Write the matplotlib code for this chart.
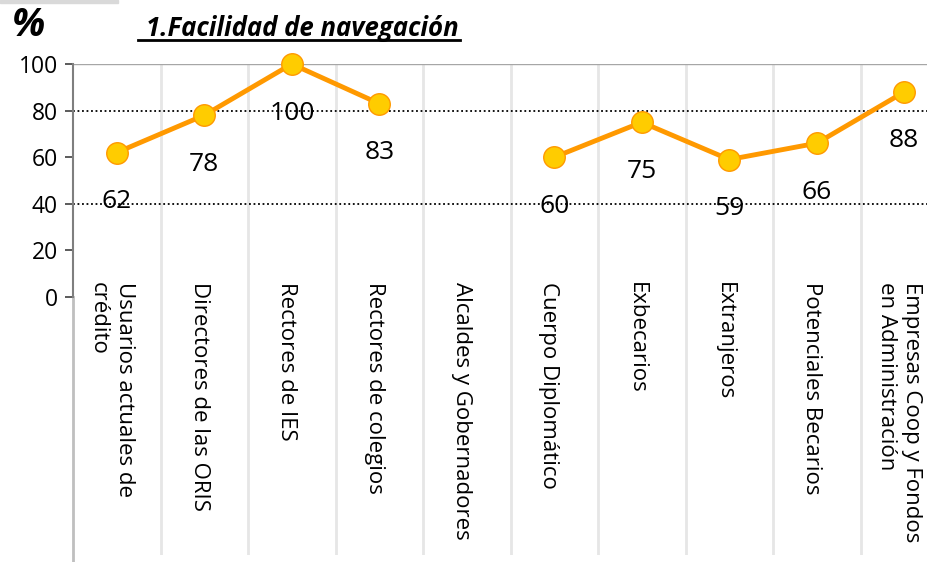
import matplotlib.pyplot as plt
import matplotlib.patches as patches
import numpy as np

categorias = [
    'Usuarios actuales de\ncrédito',
    'Directores de las ORIS',
    'Rectores de IES',
    'Rectores de colegios',
    'Alcaldes y Gobernadores',
    'Cuerpo Diplomático',
    'Exbecarios',
    'Extranjeros',
    'Potenciales Becarios',
    'Empresas Coop y Fondos\nen Administración',
]
valores = [62, 78, 100, 83, np.nan, 60, 75, 59, 66, 88]
yticks = [0, 20, 40, 60, 80, 100]

W, H = 928, 562
fig = plt.figure(figsize=(W / 100, H / 100), dpi=100)
plt.rcParams['font.family'] = ['Open Sans', 'DejaVu Sans']

# plot area (extends slightly past the right edge, like the source)
left, top, bottom = 73, 64, 555
step = 87.5
ax = fig.add_axes([left / W, 1 - bottom / H, 10 * step / W, (bottom - top) / H])

y0 = 297  # pixel row of value 0
ppu = (y0 - top) / 100.0
ax.set_xlim(-0.5, 9.5)
ax.set_ylim(-(bottom - y0) / ppu, 100)

for s in ['top', 'right', 'bottom', 'left']:
    ax.spines[s].set_visible(False)

# gridlines
for k in range(1, 10):
    ax.axvline(k - 0.5, color='#E6E6E6', lw=2, zorder=1)
ax.axhline(100, color='#A6A6A6', lw=1, zorder=1)
for g in [80, 40]:
    ax.axhline(g, color='black', lw=1.3, ls=(0, (1, 1.5)), zorder=1)

# y axis line
ax.plot([-0.5, -0.5], [0, 100], color='#7F7F7F', lw=1.5, clip_on=False, zorder=2)
ax.plot([-0.5, -0.5], [ax.get_ylim()[0] - 3, 0], color='#BFBFBF', lw=2,
        clip_on=False, zorder=1)

ax.set_yticks(yticks)
ax.set_yticklabels([str(t) for t in yticks], fontsize=16.5)
ax.tick_params(axis='y', length=6, width=1.2, color='#404040', pad=5)
ax.set_xticks([])

x = np.arange(len(categorias))
ax.plot(x, valores, color='#FF9900', lw=3.5, marker='o', markersize=15.5,
        markerfacecolor='#FFCC00', markeredgecolor='#FF9900', markeredgewidth=1,
        clip_on=False, zorder=3)

for xi, v in zip(x, valores):
    if np.isnan(v):
        continue
    ax.annotate(str(int(v)), (xi, v), xytext=(0, -49), textcoords='offset pixels',
                ha='center', va='center', fontsize=19, zorder=4)

for xi, c in zip(x, categorias):
    ax.text(xi - 0.06, 6.5, c, rotation=270, ha='center', va='top',
            multialignment='left', fontsize=16, linespacing=1.3)

fig.text(12 / W, 1 - 25 / H, '%', fontsize=28, fontweight='bold',
         fontstyle='italic', va='center', ha='left')
t = fig.text(146 / W, 1 - 28 / H, '1.Facilidad de navegación', fontsize=18.5,
             fontweight='bold', fontstyle='italic', va='center', ha='left')
fig.add_artist(plt.Line2D([138 / W, 460 / W], [1 - 40 / H, 1 - 40 / H],
                          color='black', lw=2))
fig.add_artist(patches.Rectangle((0, 1 - 3 / H), 118 / W, 3 / H,
                                 color='#D9D9D9', transform=fig.transFigure))

fig.savefig('out.png', dpi=100)
